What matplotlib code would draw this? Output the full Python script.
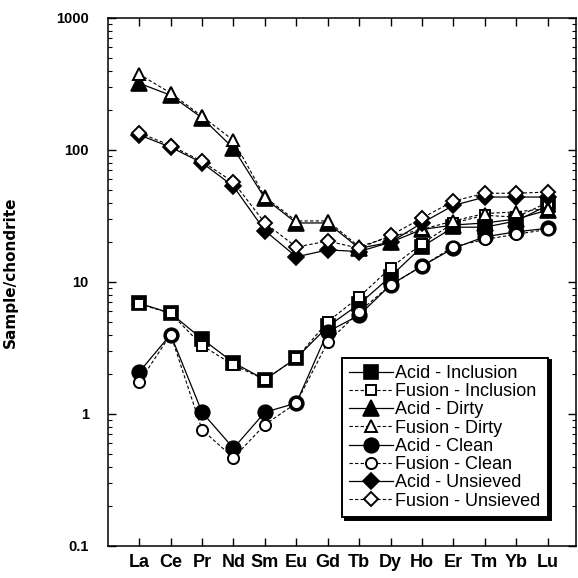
import numpy as np
import matplotlib
matplotlib.use('Agg')
from matplotlib import pyplot as plt
from matplotlib.ticker import FuncFormatter, LogLocator

#### Data
elements = ['La', 'Ce', 'Pr', 'Nd', 'Sm', 'Eu', 'Gd', 'Tb', 'Dy', 'Ho', 'Er', 'Tm', 'Yb', 'Lu']

acid_inclusion = [6.9, 5.8, 3.7, 2.45, 1.82, 2.65, 4.6, 6.8, 11.0, 18.5, 26, 26, 29, 38]
fusion_inclusion = [6.8, 5.8, 3.3, 2.35, 1.82, 2.65, 5.0, 7.7, 12.8, 19.5, 28, 32, 31, 40]
acid_dirty = [320, 260, 175, 103, 43, 28, 28, 18, 20, 25, 27, 28, 30, 35]
fusion_dirty = [375, 270, 180, 118, 44, 29, 29, 18.5, 22, 25, 29, 33, 34, 36]
acid_clean = [2.08, 4.0, 1.03, 0.55, 1.03, 1.21, 4.2, 5.6, 9.5, 13.2, 18, 22, 24, 25.5]
fusion_clean = [1.74, 4.0, 0.76, 0.465, 0.83, 1.21, 3.5, 5.95, 9.5, 13.2, 18.5, 21, 23, 25]
acid_unsieved = [130, 105, 80, 53, 24.5, 15.5, 17.5, 17, 20, 28, 38, 44, 44, 44]
fusion_unsieved = [135, 108, 82, 57, 28, 18.4, 20.4, 18, 22.5, 30.5, 41, 47, 47, 48]

labels = ['Acid - Inclusion', 'Fusion - Inclusion', 'Acid - Dirty', 'Fusion - Dirty',
          'Acid - Clean', 'Fusion - Clean', 'Acid - Unsieved', 'Fusion - Unsieved']
series = [acid_inclusion, fusion_inclusion, acid_dirty, fusion_dirty,
          acid_clean, fusion_clean, acid_unsieved, fusion_unsieved]

#### Styles
markers = ['s', 's', '^', '^', 'o', 'o', 'D', 'D']
sizes = [10, 7.5, 11.5, 9, 10.5, 8, 8.5, 7]

plt.rcParams['font.family'] = ['Liberation Sans', 'DejaVu Sans']

fig = plt.figure(figsize=(5.78, 5.78), dpi=100)
ax = fig.add_axes([0.187, 0.0554, 0.8095, 0.9135])

x = np.arange(len(elements))
for i, (vals, lab) in enumerate(zip(series, labels)):
    is_acid = lab.startswith('Acid')
    if is_acid:
        ax.plot(x, vals, color='black', lw=0.9, ls='-',
                marker=markers[i], ms=sizes[i], mfc='black', mec='black', mew=1.2,
                label=lab)
    else:
        ax.plot(x, vals, color='black', lw=0.8, ls=(0, (3, 2)),
                marker=markers[i], ms=sizes[i], mfc='white', mec='black', mew=1.4,
                label=lab)

ax.set_yscale('log')
ax.set_ylim(0.1, 1000)
ax.set_xlim(-0.99, 13.9)

ax.set_xticks(x)
ax.set_xticklabels(elements, fontsize=13, fontweight='bold')
ax.yaxis.set_major_locator(LogLocator(base=10, numticks=10))
ax.yaxis.set_minor_locator(LogLocator(base=10, subs=np.arange(2, 10), numticks=20))
ax.yaxis.set_major_formatter(FuncFormatter(lambda v, p: '%g' % v))
for t in ax.get_yticklabels():
    t.set_fontweight('bold')
    t.set_fontsize(10.5)

ax.tick_params(axis='both', which='major', direction='in', length=6, width=1,
               top=True, right=True)
ax.tick_params(axis='y', which='minor', direction='in', length=3, width=0.8, right=True)
ax.tick_params(axis='y', which='major', pad=14)
ax.tick_params(axis='x', which='major', pad=6)

for s in ax.spines.values():
    s.set_linewidth(1.1)

ax.set_ylabel('Sample/chondrite', fontsize=11, fontweight='bold',
              family=['DejaVu Sans'])
ax.yaxis.set_label_coords(-0.192, 0.519)

leg = ax.legend(loc='lower right', bbox_to_anchor=(0.94, 0.055), fontsize=13,
                frameon=True, fancybox=False, shadow={'color': 'black', 'alpha': 1},
                handlelength=2.4, handletextpad=0.15, labelspacing=0.07,
                borderpad=0.4, borderaxespad=0)
leg.get_frame().set_edgecolor('black')
leg.get_frame().set_linewidth(1.4)
leg.get_frame().set_alpha(1)

fig.savefig('out.png', dpi=100)
